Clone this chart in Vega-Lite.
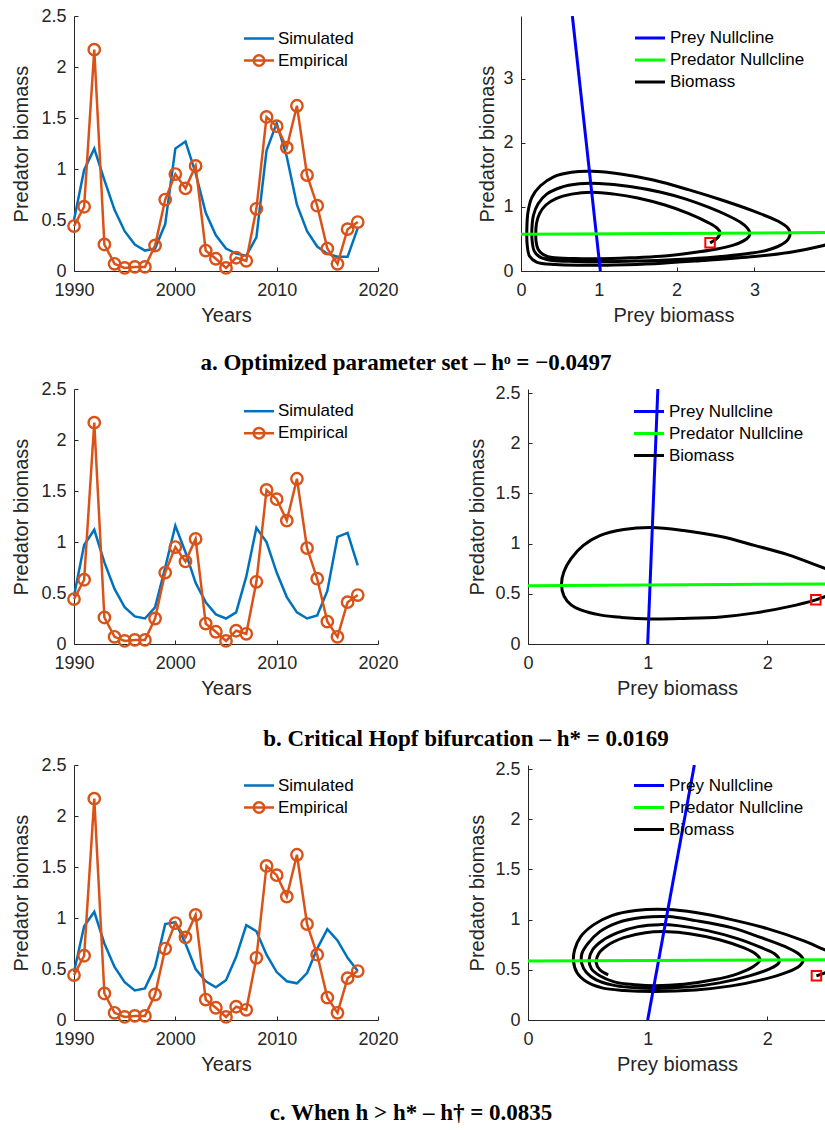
{
  "$schema": "https://vega.github.io/schema/vega-lite/v6.json",
  "background": "white",
  "padding": {"left": 11, "top": 7, "right": 0, "bottom": 0},
  "spacing": 5,
  "resolve": {"scale": {"color": "independent", "shape": "independent"}, "legend": {"color": "independent", "shape": "independent"}},
  "config": {
    "font": "Liberation Sans",
    "view": {"stroke": null},
    "axis": {"grid": false, "domainColor": "#262626", "domainWidth": 1, "tickColor": "#262626", "tickWidth": 1, "tickSize": -4, "labelColor": "#262626", "labelFontSize": 18, "labelFont": "Liberation Sans", "titleFont": "Liberation Sans", "titleFontSize": 20, "titleFontWeight": "normal", "titleColor": "#262626", "labelFlush": false, "labelOverlap": false},
    "axisX": {"labelPadding": 14.5, "titlePadding": 6},
    "axisY": {"labelPadding": 12, "titlePadding": 9},
    "legend": {"labelFont": "Liberation Sans", "labelFontSize": 17, "labelColor": "#000000", "padding": 0, "rowPadding": 5, "title": null, "direction": "vertical", "orient": "none"}
  },
  "datasets": {
    "ts": [
      {"p":"a","s":"Simulated","t":1990,"v":0.5},{"p":"a","s":"Simulated","t":1991,"v":0.99},{"p":"a","s":"Simulated","t":1992,"v":1.2},{"p":"a","s":"Simulated","t":1993,"v":0.89},{"p":"a","s":"Simulated","t":1994,"v":0.6},{"p":"a","s":"Simulated","t":1995,"v":0.39},{"p":"a","s":"Simulated","t":1996,"v":0.26},{"p":"a","s":"Simulated","t":1997,"v":0.2},{"p":"a","s":"Simulated","t":1998,"v":0.22},{"p":"a","s":"Simulated","t":1999,"v":0.46},{"p":"a","s":"Simulated","t":2000,"v":1.2},{"p":"a","s":"Simulated","t":2001,"v":1.27},{"p":"a","s":"Simulated","t":2002,"v":0.96},{"p":"a","s":"Simulated","t":2003,"v":0.57},{"p":"a","s":"Simulated","t":2004,"v":0.35},{"p":"a","s":"Simulated","t":2005,"v":0.22},{"p":"a","s":"Simulated","t":2006,"v":0.17},{"p":"a","s":"Simulated","t":2007,"v":0.15},{"p":"a","s":"Simulated","t":2008,"v":0.33},{"p":"a","s":"Simulated","t":2009,"v":1.18},{"p":"a","s":"Simulated","t":2010,"v":1.45},{"p":"a","s":"Simulated","t":2011,"v":1.12},{"p":"a","s":"Simulated","t":2012,"v":0.65},{"p":"a","s":"Simulated","t":2013,"v":0.39},{"p":"a","s":"Simulated","t":2014,"v":0.24},{"p":"a","s":"Simulated","t":2015,"v":0.17},{"p":"a","s":"Simulated","t":2016,"v":0.14},{"p":"a","s":"Simulated","t":2017,"v":0.14},{"p":"a","s":"Simulated","t":2018,"v":0.42},
      {"p":"b","s":"Simulated","t":1990,"v":0.47},{"p":"b","s":"Simulated","t":1991,"v":0.97},{"p":"b","s":"Simulated","t":1992,"v":1.12},{"p":"b","s":"Simulated","t":1993,"v":0.8},{"p":"b","s":"Simulated","t":1994,"v":0.54},{"p":"b","s":"Simulated","t":1995,"v":0.36},{"p":"b","s":"Simulated","t":1996,"v":0.27},{"p":"b","s":"Simulated","t":1997,"v":0.25},{"p":"b","s":"Simulated","t":1998,"v":0.36},{"p":"b","s":"Simulated","t":1999,"v":0.75},{"p":"b","s":"Simulated","t":2000,"v":1.16},{"p":"b","s":"Simulated","t":2001,"v":0.9},{"p":"b","s":"Simulated","t":2002,"v":0.6},{"p":"b","s":"Simulated","t":2003,"v":0.41},{"p":"b","s":"Simulated","t":2004,"v":0.29},{"p":"b","s":"Simulated","t":2005,"v":0.25},{"p":"b","s":"Simulated","t":2006,"v":0.31},{"p":"b","s":"Simulated","t":2007,"v":0.66},{"p":"b","s":"Simulated","t":2008,"v":1.14},{"p":"b","s":"Simulated","t":2009,"v":1.0},{"p":"b","s":"Simulated","t":2010,"v":0.7},{"p":"b","s":"Simulated","t":2011,"v":0.46},{"p":"b","s":"Simulated","t":2012,"v":0.31},{"p":"b","s":"Simulated","t":2013,"v":0.25},{"p":"b","s":"Simulated","t":2014,"v":0.28},{"p":"b","s":"Simulated","t":2015,"v":0.52},{"p":"b","s":"Simulated","t":2016,"v":1.05},{"p":"b","s":"Simulated","t":2017,"v":1.09},{"p":"b","s":"Simulated","t":2018,"v":0.77},
      {"p":"c","s":"Simulated","t":1990,"v":0.47},{"p":"c","s":"Simulated","t":1991,"v":0.92},{"p":"c","s":"Simulated","t":1992,"v":1.06},{"p":"c","s":"Simulated","t":1993,"v":0.75},{"p":"c","s":"Simulated","t":1994,"v":0.52},{"p":"c","s":"Simulated","t":1995,"v":0.37},{"p":"c","s":"Simulated","t":1996,"v":0.29},{"p":"c","s":"Simulated","t":1997,"v":0.31},{"p":"c","s":"Simulated","t":1998,"v":0.52},{"p":"c","s":"Simulated","t":1999,"v":0.94},{"p":"c","s":"Simulated","t":2000,"v":0.96},{"p":"c","s":"Simulated","t":2001,"v":0.75},{"p":"c","s":"Simulated","t":2002,"v":0.5},{"p":"c","s":"Simulated","t":2003,"v":0.38},{"p":"c","s":"Simulated","t":2004,"v":0.32},{"p":"c","s":"Simulated","t":2005,"v":0.39},{"p":"c","s":"Simulated","t":2006,"v":0.62},{"p":"c","s":"Simulated","t":2007,"v":0.93},{"p":"c","s":"Simulated","t":2008,"v":0.87},{"p":"c","s":"Simulated","t":2009,"v":0.64},{"p":"c","s":"Simulated","t":2010,"v":0.47},{"p":"c","s":"Simulated","t":2011,"v":0.38},{"p":"c","s":"Simulated","t":2012,"v":0.36},{"p":"c","s":"Simulated","t":2013,"v":0.46},{"p":"c","s":"Simulated","t":2014,"v":0.7},{"p":"c","s":"Simulated","t":2015,"v":0.89},{"p":"c","s":"Simulated","t":2016,"v":0.78},{"p":"c","s":"Simulated","t":2017,"v":0.61},{"p":"c","s":"Simulated","t":2018,"v":0.48},
      {"p":"e","s":"Empirical","t":1990,"v":0.44},{"p":"e","s":"Empirical","t":1991,"v":0.63},{"p":"e","s":"Empirical","t":1992,"v":2.17},{"p":"e","s":"Empirical","t":1993,"v":0.26},{"p":"e","s":"Empirical","t":1994,"v":0.07},{"p":"e","s":"Empirical","t":1995,"v":0.03},{"p":"e","s":"Empirical","t":1996,"v":0.04},{"p":"e","s":"Empirical","t":1997,"v":0.04},{"p":"e","s":"Empirical","t":1998,"v":0.25},{"p":"e","s":"Empirical","t":1999,"v":0.7},{"p":"e","s":"Empirical","t":2000,"v":0.95},{"p":"e","s":"Empirical","t":2001,"v":0.81},{"p":"e","s":"Empirical","t":2002,"v":1.03},{"p":"e","s":"Empirical","t":2003,"v":0.2},{"p":"e","s":"Empirical","t":2004,"v":0.12},{"p":"e","s":"Empirical","t":2005,"v":0.03},{"p":"e","s":"Empirical","t":2006,"v":0.13},{"p":"e","s":"Empirical","t":2007,"v":0.1},{"p":"e","s":"Empirical","t":2008,"v":0.61},{"p":"e","s":"Empirical","t":2009,"v":1.51},{"p":"e","s":"Empirical","t":2010,"v":1.42},{"p":"e","s":"Empirical","t":2011,"v":1.21},{"p":"e","s":"Empirical","t":2012,"v":1.62},{"p":"e","s":"Empirical","t":2013,"v":0.94},{"p":"e","s":"Empirical","t":2014,"v":0.64},{"p":"e","s":"Empirical","t":2015,"v":0.22},{"p":"e","s":"Empirical","t":2016,"v":0.07},{"p":"e","s":"Empirical","t":2017,"v":0.41},{"p":"e","s":"Empirical","t":2018,"v":0.48}
    ],
    "ph": [
      {"p":"a","s":"Prey Nullcline","i":0,"x":1.02,"y":0},{"p":"a","s":"Prey Nullcline","i":1,"x":0.66,"y":3.98},
      {"p":"a","s":"Predator Nullcline","i":0,"x":0,"y":0.575},{"p":"a","s":"Predator Nullcline","i":1,"x":3.92,"y":0.6},
      {"p":"b","s":"Prey Nullcline","i":0,"x":1.0,"y":0},{"p":"b","s":"Prey Nullcline","i":1,"x":1.085,"y":2.54},
      {"p":"b","s":"Predator Nullcline","i":0,"x":0,"y":0.58},{"p":"b","s":"Predator Nullcline","i":1,"x":2.49,"y":0.598},
      {"p":"c","s":"Prey Nullcline","i":0,"x":1.0,"y":0},{"p":"c","s":"Prey Nullcline","i":1,"x":1.39,"y":2.54},
      {"p":"c","s":"Predator Nullcline","i":0,"x":0,"y":0.587},{"p":"c","s":"Predator Nullcline","i":1,"x":2.49,"y":0.6},
      {"p":"a","s":"Biomass","i":0,"x":2.43,"y":0.44},{"p":"a","s":"Biomass","i":1,"x":2.5,"y":0.49},{"p":"a","s":"Biomass","i":2,"x":2.54,"y":0.54},{"p":"a","s":"Biomass","i":3,"x":2.56,"y":0.6},{"p":"a","s":"Biomass","i":4,"x":2.52,"y":0.67},{"p":"a","s":"Biomass","i":5,"x":2.4,"y":0.76},{"p":"a","s":"Biomass","i":6,"x":2.15,"y":0.9},{"p":"a","s":"Biomass","i":7,"x":1.85,"y":1.03},{"p":"a","s":"Biomass","i":8,"x":1.5,"y":1.14},{"p":"a","s":"Biomass","i":9,"x":1.2,"y":1.2},{"p":"a","s":"Biomass","i":10,"x":0.91,"y":1.23},{"p":"a","s":"Biomass","i":11,"x":0.65,"y":1.2},{"p":"a","s":"Biomass","i":12,"x":0.45,"y":1.13},{"p":"a","s":"Biomass","i":13,"x":0.32,"y":1.03},{"p":"a","s":"Biomass","i":14,"x":0.24,"y":0.9},{"p":"a","s":"Biomass","i":15,"x":0.2,"y":0.75},{"p":"a","s":"Biomass","i":16,"x":0.19,"y":0.6},{"p":"a","s":"Biomass","i":17,"x":0.195,"y":0.45},{"p":"a","s":"Biomass","i":18,"x":0.22,"y":0.34},{"p":"a","s":"Biomass","i":19,"x":0.28,"y":0.26},{"p":"a","s":"Biomass","i":20,"x":0.4,"y":0.21},{"p":"a","s":"Biomass","i":21,"x":0.7,"y":0.195},{"p":"a","s":"Biomass","i":22,"x":1.0,"y":0.19},{"p":"a","s":"Biomass","i":23,"x":1.4,"y":0.205},{"p":"a","s":"Biomass","i":24,"x":1.8,"y":0.23},{"p":"a","s":"Biomass","i":25,"x":2.2,"y":0.285},{"p":"a","s":"Biomass","i":26,"x":2.5,"y":0.34},{"p":"a","s":"Biomass","i":27,"x":2.72,"y":0.4},{"p":"a","s":"Biomass","i":28,"x":2.86,"y":0.47},{"p":"a","s":"Biomass","i":29,"x":2.93,"y":0.54},{"p":"a","s":"Biomass","i":30,"x":2.94,"y":0.6},{"p":"a","s":"Biomass","i":31,"x":2.91,"y":0.67},{"p":"a","s":"Biomass","i":32,"x":2.82,"y":0.76},{"p":"a","s":"Biomass","i":33,"x":2.65,"y":0.87},{"p":"a","s":"Biomass","i":34,"x":2.4,"y":1.0},{"p":"a","s":"Biomass","i":35,"x":2.1,"y":1.13},{"p":"a","s":"Biomass","i":36,"x":1.8,"y":1.23},{"p":"a","s":"Biomass","i":37,"x":1.4,"y":1.32},{"p":"a","s":"Biomass","i":38,"x":1.0,"y":1.365},{"p":"a","s":"Biomass","i":39,"x":0.75,"y":1.36},{"p":"a","s":"Biomass","i":40,"x":0.5,"y":1.3},{"p":"a","s":"Biomass","i":41,"x":0.33,"y":1.2},{"p":"a","s":"Biomass","i":42,"x":0.22,"y":1.05},{"p":"a","s":"Biomass","i":43,"x":0.16,"y":0.87},{"p":"a","s":"Biomass","i":44,"x":0.14,"y":0.65},{"p":"a","s":"Biomass","i":45,"x":0.145,"y":0.45},{"p":"a","s":"Biomass","i":46,"x":0.17,"y":0.31},{"p":"a","s":"Biomass","i":47,"x":0.24,"y":0.22},{"p":"a","s":"Biomass","i":48,"x":0.4,"y":0.165},{"p":"a","s":"Biomass","i":49,"x":0.7,"y":0.15},{"p":"a","s":"Biomass","i":50,"x":1.0,"y":0.145},{"p":"a","s":"Biomass","i":51,"x":1.5,"y":0.155},{"p":"a","s":"Biomass","i":52,"x":2.0,"y":0.18},{"p":"a","s":"Biomass","i":53,"x":2.5,"y":0.22},{"p":"a","s":"Biomass","i":54,"x":2.9,"y":0.27},{"p":"a","s":"Biomass","i":55,"x":3.15,"y":0.32},{"p":"a","s":"Biomass","i":56,"x":3.33,"y":0.4},{"p":"a","s":"Biomass","i":57,"x":3.43,"y":0.49},{"p":"a","s":"Biomass","i":58,"x":3.46,"y":0.59},{"p":"a","s":"Biomass","i":59,"x":3.43,"y":0.67},{"p":"a","s":"Biomass","i":60,"x":3.3,"y":0.78},{"p":"a","s":"Biomass","i":61,"x":3.0,"y":0.93},{"p":"a","s":"Biomass","i":62,"x":2.6,"y":1.1},{"p":"a","s":"Biomass","i":63,"x":2.15,"y":1.27},{"p":"a","s":"Biomass","i":64,"x":1.7,"y":1.42},{"p":"a","s":"Biomass","i":65,"x":1.3,"y":1.51},{"p":"a","s":"Biomass","i":66,"x":0.9,"y":1.555},{"p":"a","s":"Biomass","i":67,"x":0.65,"y":1.54},{"p":"a","s":"Biomass","i":68,"x":0.42,"y":1.47},{"p":"a","s":"Biomass","i":69,"x":0.25,"y":1.33},{"p":"a","s":"Biomass","i":70,"x":0.14,"y":1.15},{"p":"a","s":"Biomass","i":71,"x":0.09,"y":0.92},{"p":"a","s":"Biomass","i":72,"x":0.075,"y":0.65},{"p":"a","s":"Biomass","i":73,"x":0.08,"y":0.4},{"p":"a","s":"Biomass","i":74,"x":0.11,"y":0.23},{"p":"a","s":"Biomass","i":75,"x":0.2,"y":0.14},{"p":"a","s":"Biomass","i":76,"x":0.44,"y":0.1},{"p":"a","s":"Biomass","i":77,"x":0.8,"y":0.09},{"p":"a","s":"Biomass","i":78,"x":1.2,"y":0.095},{"p":"a","s":"Biomass","i":79,"x":1.72,"y":0.115},{"p":"a","s":"Biomass","i":80,"x":2.3,"y":0.16},{"p":"a","s":"Biomass","i":81,"x":3.0,"y":0.225},{"p":"a","s":"Biomass","i":82,"x":3.5,"y":0.3},{"p":"a","s":"Biomass","i":83,"x":3.93,"y":0.41},{"p":"a","s":"Biomass","i":84,"x":4.1,"y":0.46},
      {"p":"b","s":"Biomass","i":0,"x":2.405,"y":0.44},{"p":"b","s":"Biomass","i":1,"x":2.5,"y":0.48},{"p":"b","s":"Biomass","i":2,"x":2.6,"y":0.54},{"p":"b","s":"Biomass","i":3,"x":2.65,"y":0.62},{"p":"b","s":"Biomass","i":4,"x":2.6,"y":0.7},{"p":"b","s":"Biomass","i":5,"x":2.49,"y":0.75},{"p":"b","s":"Biomass","i":6,"x":2.31,"y":0.83},{"p":"b","s":"Biomass","i":7,"x":2.17,"y":0.89},{"p":"b","s":"Biomass","i":8,"x":1.9,"y":0.98},{"p":"b","s":"Biomass","i":9,"x":1.61,"y":1.07},{"p":"b","s":"Biomass","i":10,"x":1.3,"y":1.13},{"p":"b","s":"Biomass","i":11,"x":1.03,"y":1.16},{"p":"b","s":"Biomass","i":12,"x":0.8,"y":1.14},{"p":"b","s":"Biomass","i":13,"x":0.6,"y":1.08},{"p":"b","s":"Biomass","i":14,"x":0.46,"y":0.98},{"p":"b","s":"Biomass","i":15,"x":0.36,"y":0.85},{"p":"b","s":"Biomass","i":16,"x":0.3,"y":0.72},{"p":"b","s":"Biomass","i":17,"x":0.28,"y":0.6},{"p":"b","s":"Biomass","i":18,"x":0.3,"y":0.48},{"p":"b","s":"Biomass","i":19,"x":0.36,"y":0.39},{"p":"b","s":"Biomass","i":20,"x":0.44,"y":0.34},{"p":"b","s":"Biomass","i":21,"x":0.6,"y":0.29},{"p":"b","s":"Biomass","i":22,"x":0.78,"y":0.265},{"p":"b","s":"Biomass","i":23,"x":1.03,"y":0.25},{"p":"b","s":"Biomass","i":24,"x":1.3,"y":0.255},{"p":"b","s":"Biomass","i":25,"x":1.61,"y":0.27},{"p":"b","s":"Biomass","i":26,"x":1.9,"y":0.31},{"p":"b","s":"Biomass","i":27,"x":2.17,"y":0.37},{"p":"b","s":"Biomass","i":28,"x":2.405,"y":0.44},{"p":"b","s":"Biomass","i":29,"x":2.5,"y":0.48},{"p":"b","s":"Biomass","i":30,"x":2.6,"y":0.54},
      {"p":"c","s":"Biomass","i":0,"x":2.41,"y":0.44},{"p":"c","s":"Biomass","i":1,"x":2.5,"y":0.48},{"p":"c","s":"Biomass","i":2,"x":2.6,"y":0.55},{"p":"c","s":"Biomass","i":3,"x":2.62,"y":0.63},{"p":"c","s":"Biomass","i":4,"x":2.56,"y":0.67},{"p":"c","s":"Biomass","i":5,"x":2.5,"y":0.69},{"p":"c","s":"Biomass","i":6,"x":2.3,"y":0.79},{"p":"c","s":"Biomass","i":7,"x":2.0,"y":0.91},{"p":"c","s":"Biomass","i":8,"x":1.7,"y":1.0},{"p":"c","s":"Biomass","i":9,"x":1.4,"y":1.07},{"p":"c","s":"Biomass","i":10,"x":1.17,"y":1.1},{"p":"c","s":"Biomass","i":11,"x":0.9,"y":1.09},{"p":"c","s":"Biomass","i":12,"x":0.7,"y":1.04},{"p":"c","s":"Biomass","i":13,"x":0.55,"y":0.95},{"p":"c","s":"Biomass","i":14,"x":0.44,"y":0.83},{"p":"c","s":"Biomass","i":15,"x":0.39,"y":0.7},{"p":"c","s":"Biomass","i":16,"x":0.38,"y":0.59},{"p":"c","s":"Biomass","i":17,"x":0.41,"y":0.47},{"p":"c","s":"Biomass","i":18,"x":0.49,"y":0.38},{"p":"c","s":"Biomass","i":19,"x":0.62,"y":0.32},{"p":"c","s":"Biomass","i":20,"x":0.8,"y":0.295},{"p":"c","s":"Biomass","i":21,"x":1.06,"y":0.285},{"p":"c","s":"Biomass","i":22,"x":1.4,"y":0.3},{"p":"c","s":"Biomass","i":23,"x":1.7,"y":0.34},{"p":"c","s":"Biomass","i":24,"x":1.95,"y":0.4},{"p":"c","s":"Biomass","i":25,"x":2.15,"y":0.47},{"p":"c","s":"Biomass","i":26,"x":2.27,"y":0.54},{"p":"c","s":"Biomass","i":27,"x":2.3,"y":0.6},{"p":"c","s":"Biomass","i":28,"x":2.26,"y":0.66},{"p":"c","s":"Biomass","i":29,"x":2.15,"y":0.73},{"p":"c","s":"Biomass","i":30,"x":1.95,"y":0.82},{"p":"c","s":"Biomass","i":31,"x":1.7,"y":0.92},{"p":"c","s":"Biomass","i":32,"x":1.4,"y":0.99},{"p":"c","s":"Biomass","i":33,"x":1.17,"y":1.03},{"p":"c","s":"Biomass","i":34,"x":0.95,"y":1.02},{"p":"c","s":"Biomass","i":35,"x":0.75,"y":0.97},{"p":"c","s":"Biomass","i":36,"x":0.6,"y":0.88},{"p":"c","s":"Biomass","i":37,"x":0.5,"y":0.76},{"p":"c","s":"Biomass","i":38,"x":0.45,"y":0.66},{"p":"c","s":"Biomass","i":39,"x":0.45,"y":0.56},{"p":"c","s":"Biomass","i":40,"x":0.49,"y":0.47},{"p":"c","s":"Biomass","i":41,"x":0.57,"y":0.4},{"p":"c","s":"Biomass","i":42,"x":0.7,"y":0.35},{"p":"c","s":"Biomass","i":43,"x":0.85,"y":0.325},{"p":"c","s":"Biomass","i":44,"x":1.06,"y":0.315},{"p":"c","s":"Biomass","i":45,"x":1.35,"y":0.33},{"p":"c","s":"Biomass","i":46,"x":1.6,"y":0.37},{"p":"c","s":"Biomass","i":47,"x":1.85,"y":0.44},{"p":"c","s":"Biomass","i":48,"x":2.02,"y":0.51},{"p":"c","s":"Biomass","i":49,"x":2.09,"y":0.56},{"p":"c","s":"Biomass","i":50,"x":2.1,"y":0.6},{"p":"c","s":"Biomass","i":51,"x":2.06,"y":0.66},{"p":"c","s":"Biomass","i":52,"x":1.95,"y":0.72},{"p":"c","s":"Biomass","i":53,"x":1.75,"y":0.81},{"p":"c","s":"Biomass","i":54,"x":1.5,"y":0.89},{"p":"c","s":"Biomass","i":55,"x":1.25,"y":0.94},{"p":"c","s":"Biomass","i":56,"x":1.1,"y":0.95},{"p":"c","s":"Biomass","i":57,"x":0.92,"y":0.93},{"p":"c","s":"Biomass","i":58,"x":0.75,"y":0.87},{"p":"c","s":"Biomass","i":59,"x":0.62,"y":0.79},{"p":"c","s":"Biomass","i":60,"x":0.54,"y":0.7},{"p":"c","s":"Biomass","i":61,"x":0.51,"y":0.6},{"p":"c","s":"Biomass","i":62,"x":0.53,"y":0.51},{"p":"c","s":"Biomass","i":63,"x":0.6,"y":0.44},{"p":"c","s":"Biomass","i":64,"x":0.72,"y":0.38},{"p":"c","s":"Biomass","i":65,"x":0.9,"y":0.35},{"p":"c","s":"Biomass","i":66,"x":1.06,"y":0.34},{"p":"c","s":"Biomass","i":67,"x":1.3,"y":0.355},{"p":"c","s":"Biomass","i":68,"x":1.55,"y":0.4},{"p":"c","s":"Biomass","i":69,"x":1.75,"y":0.46},{"p":"c","s":"Biomass","i":70,"x":1.88,"y":0.53},{"p":"c","s":"Biomass","i":71,"x":1.94,"y":0.6},{"p":"c","s":"Biomass","i":72,"x":1.9,"y":0.66},{"p":"c","s":"Biomass","i":73,"x":1.8,"y":0.72},{"p":"c","s":"Biomass","i":74,"x":1.6,"y":0.8},{"p":"c","s":"Biomass","i":75,"x":1.35,"y":0.86},{"p":"c","s":"Biomass","i":76,"x":1.17,"y":0.88},{"p":"c","s":"Biomass","i":77,"x":0.98,"y":0.87},{"p":"c","s":"Biomass","i":78,"x":0.8,"y":0.82},{"p":"c","s":"Biomass","i":79,"x":0.66,"y":0.74},{"p":"c","s":"Biomass","i":80,"x":0.59,"y":0.66},{"p":"c","s":"Biomass","i":81,"x":0.57,"y":0.57},{"p":"c","s":"Biomass","i":82,"x":0.6,"y":0.5},{"p":"c","s":"Biomass","i":83,"x":0.67,"y":0.45}
    ],
    "st": [{"p":"a","x":2.43,"y":0.44},{"p":"b","x":2.405,"y":0.44},{"p":"c","x":2.41,"y":0.44}]
  },
  "vconcat": [
    {
      "bounds": "flush",
      "spacing": 143,
      "resolve": {"scale": {"color": "independent", "shape": "independent"}, "legend": {"color": "independent", "shape": "independent"}},
      "title": {"text": "a. Optimized parameter set – hᵒ = −0.0497", "orient": "bottom", "anchor": "middle", "frame": "bounds", "offset": 26, "dx": -13, "font": "Liberation Serif", "fontSize": 23, "fontWeight": "bold", "color": "#000000"},
      "hconcat": [
        {
          "width": 304, "height": 255,
          "layer": [
            {"data": {"name": "ts"}, "transform": [{"filter": "datum.p == 'a'"}], "mark": {"type": "line", "strokeWidth": 2.5},
             "encoding": {"x": {"field": "t", "type": "quantitative", "scale": {"domain": [1990, 2020], "nice": false, "zero": false}, "axis": {"values": [1990, 2000, 2010, 2020], "format": "d", "title": "Years"}},
                          "y": {"field": "v", "type": "quantitative", "scale": {"domain": [0, 2.5], "nice": false}, "axis": {"values": [0, 0.5, 1, 1.5, 2, 2.5], "format": "~g", "title": "Predator biomass"}},
                          "color": {"field": "s", "type": "nominal", "scale": {"domain": ["Simulated", "Empirical"], "range": ["#0072BD", "#D95319"]}, "legend": null}}},
            {"data": {"name": "ts"}, "transform": [{"filter": "datum.p == 'e'"}], "mark": {"type": "line", "strokeWidth": 2.5},
             "encoding": {"x": {"field": "t", "type": "quantitative"}, "y": {"field": "v", "type": "quantitative"},
                          "color": {"field": "s", "type": "nominal", "legend": null}}},
            {"data": {"name": "ts"}, "transform": [{"filter": "datum.p == 'e'"}], "mark": {"type": "point", "shape": "circle", "filled": false, "size": 130, "strokeWidth": 2.4, "opacity": 1},
             "encoding": {"x": {"field": "t", "type": "quantitative"}, "y": {"field": "v", "type": "quantitative"},
                          "color": {"field": "s", "type": "nominal", "legend": null}}},
            {"data": {"name": "ts"}, "transform": [{"filter": "(datum.p == 'a' || datum.p == 'e') && datum.t == 1990"}], "mark": {"type": "point", "filled": false, "opacity": 0},
             "encoding": {"x": {"field": "t", "type": "quantitative"}, "y": {"field": "v", "type": "quantitative"},
                          "color": {"field": "s", "type": "nominal", "legend": {"legendX": 176, "legendY": 13.5, "symbolSize": 225, "symbolStrokeWidth": 2.5, "symbolOpacity": 1, "labelOffset": 10, "rowPadding": 3}},
                          "shape": {"field": "s", "type": "nominal", "scale": {"domain": ["Simulated", "Empirical"], "range": ["M-2,0H2", "M-2,0H2M0.7,0A0.7,0.7 0 1 1 -0.7,0A0.7,0.7 0 1 1 0.7,0"]}, "legend": {"legendX": 176, "legendY": 13.5, "symbolSize": 225, "symbolStrokeWidth": 2.5, "symbolOpacity": 1, "labelOffset": 10, "rowPadding": 3}}}}
          ],
          "resolve": {"legend": {"color": "independent", "shape": "independent"}}
        },
        {
          "width": 305, "height": 255,
          "layer": [
            {"data": {"name": "ph"}, "transform": [{"filter": "datum.p == 'a' && datum.s == 'Biomass'"}], "mark": {"type": "line", "strokeWidth": 3, "clip": true, "interpolate": "catmull-rom"},
             "encoding": {"x": {"field": "x", "type": "quantitative", "scale": {"domain": [0, 3.92], "nice": false}, "axis": {"values": [0, 1, 2, 3], "format": "d", "title": "Prey biomass"}},
                          "y": {"field": "y", "type": "quantitative", "scale": {"domain": [0, 3.98], "nice": false}, "axis": {"values": [0, 1, 2, 3], "format": "d", "title": "Predator biomass", "titlePadding": 5}},
                          "order": {"field": "i", "type": "quantitative"},
                          "color": {"field": "s", "type": "nominal", "scale": {"domain": ["Prey Nullcline", "Predator Nullcline", "Biomass"], "range": ["#0000FF", "#00FF00", "#000000"]}, "legend": {"legendX": 120, "legendY": 13, "symbolType": "M-2,0H2", "symbolSize": 225, "symbolStrokeWidth": 3, "labelOffset": 11}}}},
            {"data": {"name": "ph"}, "transform": [{"filter": "datum.p == 'a' && datum.s != 'Biomass'"}], "mark": {"type": "line", "strokeWidth": 3, "clip": true},
             "encoding": {"x": {"field": "x", "type": "quantitative"}, "y": {"field": "y", "type": "quantitative"},
                          "order": {"field": "i", "type": "quantitative"},
                          "color": {"field": "s", "type": "nominal"}}},
            {"data": {"name": "st"}, "transform": [{"filter": "datum.p == 'a'"}], "mark": {"type": "point", "shape": "square", "filled": false, "color": "#FF0000", "size": 90, "strokeWidth": 2, "opacity": 1},
             "encoding": {"x": {"field": "x", "type": "quantitative"}, "y": {"field": "y", "type": "quantitative"}}}
          ]
        }
      ]
    },
    {
      "bounds": "flush",
      "spacing": 150,
      "resolve": {"scale": {"color": "independent", "shape": "independent"}, "legend": {"color": "independent", "shape": "independent"}},
      "title": {"text": "b. Critical Hopf bifurcation – h* = 0.0169", "orient": "bottom", "anchor": "middle", "frame": "bounds", "offset": 29, "dx": 47, "font": "Liberation Serif", "fontSize": 23, "fontWeight": "bold", "color": "#000000"},
      "hconcat": [
        {
          "width": 304, "height": 255,
          "layer": [
            {"data": {"name": "ts"}, "transform": [{"filter": "datum.p == 'b'"}], "mark": {"type": "line", "strokeWidth": 2.5},
             "encoding": {"x": {"field": "t", "type": "quantitative", "scale": {"domain": [1990, 2020], "nice": false, "zero": false}, "axis": {"values": [1990, 2000, 2010, 2020], "format": "d", "title": "Years"}},
                          "y": {"field": "v", "type": "quantitative", "scale": {"domain": [0, 2.5], "nice": false}, "axis": {"values": [0, 0.5, 1, 1.5, 2, 2.5], "format": "~g", "title": "Predator biomass"}},
                          "color": {"field": "s", "type": "nominal", "scale": {"domain": ["Simulated", "Empirical"], "range": ["#0072BD", "#D95319"]}, "legend": null}}},
            {"data": {"name": "ts"}, "transform": [{"filter": "datum.p == 'e'"}], "mark": {"type": "line", "strokeWidth": 2.5},
             "encoding": {"x": {"field": "t", "type": "quantitative"}, "y": {"field": "v", "type": "quantitative"},
                          "color": {"field": "s", "type": "nominal", "legend": null}}},
            {"data": {"name": "ts"}, "transform": [{"filter": "datum.p == 'e'"}], "mark": {"type": "point", "shape": "circle", "filled": false, "size": 130, "strokeWidth": 2.4, "opacity": 1},
             "encoding": {"x": {"field": "t", "type": "quantitative"}, "y": {"field": "v", "type": "quantitative"},
                          "color": {"field": "s", "type": "nominal", "legend": null}}},
            {"data": {"name": "ts"}, "transform": [{"filter": "(datum.p == 'b' || datum.p == 'e') && datum.t == 1990"}], "mark": {"type": "point", "filled": false, "opacity": 0},
             "encoding": {"x": {"field": "t", "type": "quantitative"}, "y": {"field": "v", "type": "quantitative"},
                          "color": {"field": "s", "type": "nominal", "legend": {"legendX": 176, "legendY": 13.2, "symbolSize": 225, "symbolStrokeWidth": 2.5, "symbolOpacity": 1, "labelOffset": 10, "rowPadding": 3}},
                          "shape": {"field": "s", "type": "nominal", "scale": {"domain": ["Simulated", "Empirical"], "range": ["M-2,0H2", "M-2,0H2M0.7,0A0.7,0.7 0 1 1 -0.7,0A0.7,0.7 0 1 1 0.7,0"]}, "legend": {"legendX": 176, "legendY": 13.2, "symbolSize": 225, "symbolStrokeWidth": 2.5, "symbolOpacity": 1, "labelOffset": 10, "rowPadding": 3}}}}
          ],
          "resolve": {"legend": {"color": "independent", "shape": "independent"}}
        },
        {
          "width": 298, "height": 255,
          "layer": [
            {"data": {"name": "ph"}, "transform": [{"filter": "datum.p == 'b' && datum.s == 'Biomass'"}], "mark": {"type": "line", "strokeWidth": 3, "clip": true, "interpolate": "catmull-rom"},
             "encoding": {"x": {"field": "x", "type": "quantitative", "scale": {"domain": [0, 2.49], "nice": false}, "axis": {"values": [0, 1, 2], "format": "d", "title": "Prey biomass"}},
                          "y": {"field": "y", "type": "quantitative", "scale": {"domain": [0, 2.54], "nice": false}, "axis": {"values": [0, 0.5, 1, 1.5, 2, 2.5], "format": "~g", "title": "Predator biomass", "titlePadding": 7.5}},
                          "order": {"field": "i", "type": "quantitative"},
                          "color": {"field": "s", "type": "nominal", "scale": {"domain": ["Prey Nullcline", "Predator Nullcline", "Biomass"], "range": ["#0000FF", "#00FF00", "#000000"]}, "legend": {"legendX": 112, "legendY": 13.5, "symbolType": "M-2,0H2", "symbolSize": 225, "symbolStrokeWidth": 3, "labelOffset": 11}}}},
            {"data": {"name": "ph"}, "transform": [{"filter": "datum.p == 'b' && datum.s != 'Biomass'"}], "mark": {"type": "line", "strokeWidth": 3, "clip": true},
             "encoding": {"x": {"field": "x", "type": "quantitative"}, "y": {"field": "y", "type": "quantitative"},
                          "order": {"field": "i", "type": "quantitative"},
                          "color": {"field": "s", "type": "nominal"}}},
            {"data": {"name": "st"}, "transform": [{"filter": "datum.p == 'b'"}], "mark": {"type": "point", "shape": "square", "filled": false, "color": "#FF0000", "size": 90, "strokeWidth": 2, "opacity": 1},
             "encoding": {"x": {"field": "x", "type": "quantitative"}, "y": {"field": "y", "type": "quantitative"}}}
          ]
        }
      ]
    },
    {
      "bounds": "flush",
      "spacing": 150,
      "resolve": {"scale": {"color": "independent", "shape": "independent"}, "legend": {"color": "independent", "shape": "independent"}},
      "title": {"text": "c. When h > h* – h† = 0.0835", "orient": "bottom", "anchor": "middle", "frame": "bounds", "offset": 27, "dx": -8, "font": "Liberation Serif", "fontSize": 23, "fontWeight": "bold", "color": "#000000"},
      "hconcat": [
        {
          "width": 304, "height": 255,
          "layer": [
            {"data": {"name": "ts"}, "transform": [{"filter": "datum.p == 'c'"}], "mark": {"type": "line", "strokeWidth": 2.5},
             "encoding": {"x": {"field": "t", "type": "quantitative", "scale": {"domain": [1990, 2020], "nice": false, "zero": false}, "axis": {"values": [1990, 2000, 2010, 2020], "format": "d", "title": "Years"}},
                          "y": {"field": "v", "type": "quantitative", "scale": {"domain": [0, 2.5], "nice": false}, "axis": {"values": [0, 0.5, 1, 1.5, 2, 2.5], "format": "~g", "title": "Predator biomass"}},
                          "color": {"field": "s", "type": "nominal", "scale": {"domain": ["Simulated", "Empirical"], "range": ["#0072BD", "#D95319"]}, "legend": null}}},
            {"data": {"name": "ts"}, "transform": [{"filter": "datum.p == 'e'"}], "mark": {"type": "line", "strokeWidth": 2.5},
             "encoding": {"x": {"field": "t", "type": "quantitative"}, "y": {"field": "v", "type": "quantitative"},
                          "color": {"field": "s", "type": "nominal", "legend": null}}},
            {"data": {"name": "ts"}, "transform": [{"filter": "datum.p == 'e'"}], "mark": {"type": "point", "shape": "circle", "filled": false, "size": 130, "strokeWidth": 2.4, "opacity": 1},
             "encoding": {"x": {"field": "t", "type": "quantitative"}, "y": {"field": "v", "type": "quantitative"},
                          "color": {"field": "s", "type": "nominal", "legend": null}}},
            {"data": {"name": "ts"}, "transform": [{"filter": "(datum.p == 'c' || datum.p == 'e') && datum.t == 1990"}], "mark": {"type": "point", "filled": false, "opacity": 0},
             "encoding": {"x": {"field": "t", "type": "quantitative"}, "y": {"field": "v", "type": "quantitative"},
                          "color": {"field": "s", "type": "nominal", "legend": {"legendX": 176, "legendY": 11.5, "symbolSize": 225, "symbolStrokeWidth": 2.5, "symbolOpacity": 1, "labelOffset": 10, "rowPadding": 3}},
                          "shape": {"field": "s", "type": "nominal", "scale": {"domain": ["Simulated", "Empirical"], "range": ["M-2,0H2", "M-2,0H2M0.7,0A0.7,0.7 0 1 1 -0.7,0A0.7,0.7 0 1 1 0.7,0"]}, "legend": {"legendX": 176, "legendY": 11.5, "symbolSize": 225, "symbolStrokeWidth": 2.5, "symbolOpacity": 1, "labelOffset": 10, "rowPadding": 3}}}}
          ],
          "resolve": {"legend": {"color": "independent", "shape": "independent"}}
        },
        {
          "width": 298, "height": 255,
          "layer": [
            {"data": {"name": "ph"}, "transform": [{"filter": "datum.p == 'c' && datum.s == 'Biomass'"}], "mark": {"type": "line", "strokeWidth": 3, "clip": true, "interpolate": "catmull-rom"},
             "encoding": {"x": {"field": "x", "type": "quantitative", "scale": {"domain": [0, 2.49], "nice": false}, "axis": {"values": [0, 1, 2], "format": "d", "title": "Prey biomass"}},
                          "y": {"field": "y", "type": "quantitative", "scale": {"domain": [0, 2.54], "nice": false}, "axis": {"values": [0, 0.5, 1, 1.5, 2, 2.5], "format": "~g", "title": "Predator biomass", "titlePadding": 7.5}},
                          "order": {"field": "i", "type": "quantitative"},
                          "color": {"field": "s", "type": "nominal", "scale": {"domain": ["Prey Nullcline", "Predator Nullcline", "Biomass"], "range": ["#0000FF", "#00FF00", "#000000"]}, "legend": {"legendX": 112, "legendY": 11.5, "symbolType": "M-2,0H2", "symbolSize": 225, "symbolStrokeWidth": 3, "labelOffset": 11}}}},
            {"data": {"name": "ph"}, "transform": [{"filter": "datum.p == 'c' && datum.s != 'Biomass'"}], "mark": {"type": "line", "strokeWidth": 3, "clip": true},
             "encoding": {"x": {"field": "x", "type": "quantitative"}, "y": {"field": "y", "type": "quantitative"},
                          "order": {"field": "i", "type": "quantitative"},
                          "color": {"field": "s", "type": "nominal"}}},
            {"data": {"name": "st"}, "transform": [{"filter": "datum.p == 'c'"}], "mark": {"type": "point", "shape": "square", "filled": false, "color": "#FF0000", "size": 90, "strokeWidth": 2, "opacity": 1},
             "encoding": {"x": {"field": "x", "type": "quantitative"}, "y": {"field": "y", "type": "quantitative"}}}
          ]
        }
      ]
    }
  ]
}
